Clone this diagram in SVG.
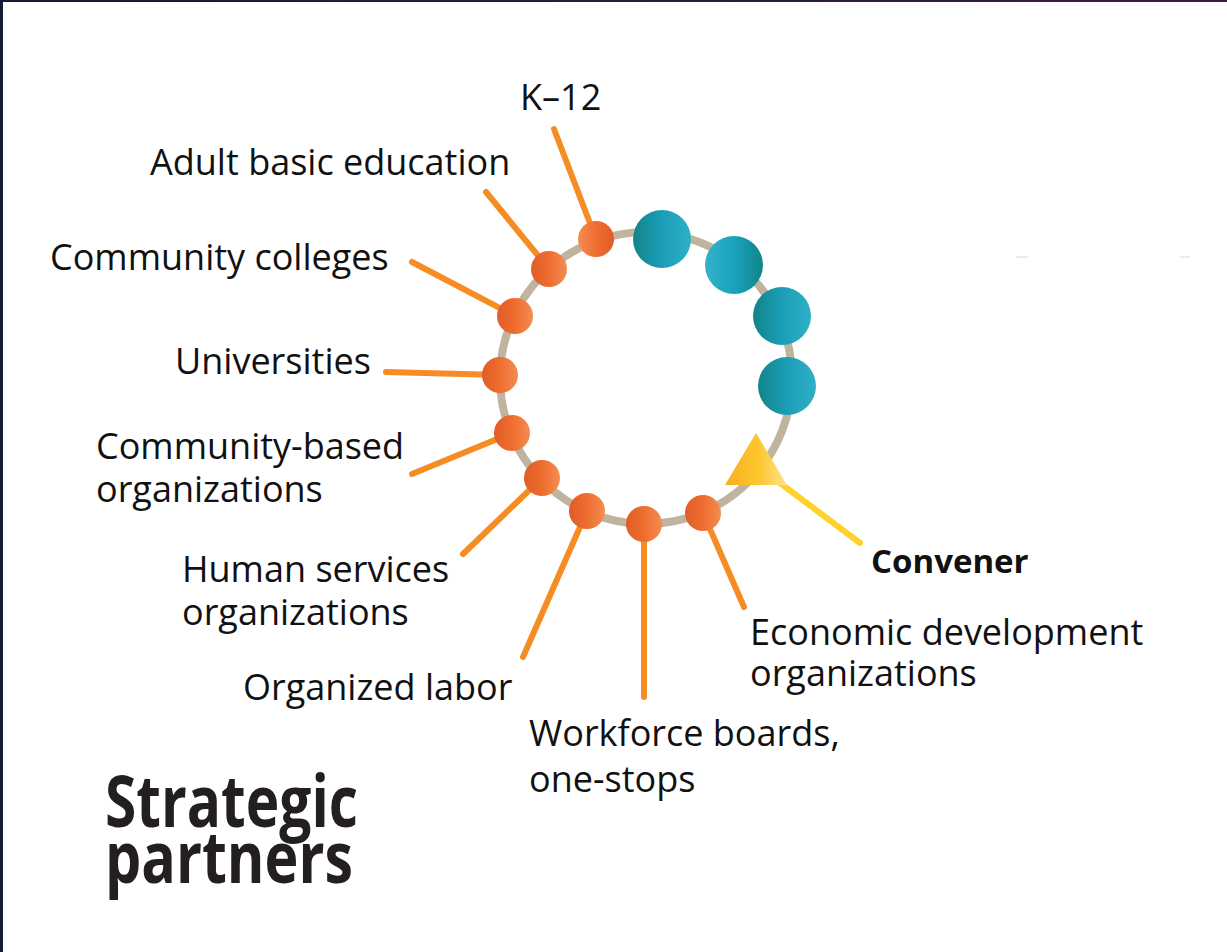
<svg xmlns="http://www.w3.org/2000/svg" width="1227" height="952" viewBox="0 0 1227 952">
<defs>
<linearGradient id="topbar" x1="0" y1="0" x2="1" y2="0"><stop offset="0" stop-color="#141c3a"/><stop offset="1" stop-color="#3b1a4a"/></linearGradient>
<linearGradient id="orR" x1="0" y1="0" x2="1" y2="0"><stop offset="0" stop-color="#e05c28"/><stop offset="0.5" stop-color="#ee6d2e"/><stop offset="1" stop-color="#f48d52"/></linearGradient>
<linearGradient id="orL" x1="0" y1="0" x2="1" y2="0"><stop offset="0" stop-color="#f48d52"/><stop offset="0.5" stop-color="#ee6d2e"/><stop offset="1" stop-color="#e05c28"/></linearGradient>
<linearGradient id="teR" x1="0" y1="0" x2="1" y2="0"><stop offset="0" stop-color="#128489"/><stop offset="0.5" stop-color="#1b9db7"/><stop offset="1" stop-color="#2eb1c7"/></linearGradient>
<linearGradient id="teL" x1="0" y1="0" x2="1" y2="0"><stop offset="0" stop-color="#34b3c9"/><stop offset="0.5" stop-color="#1aa2bc"/><stop offset="1" stop-color="#128489"/></linearGradient>
<linearGradient id="tri" x1="0" y1="0" x2="1" y2="0"><stop offset="0" stop-color="#f9ad22"/><stop offset="0.55" stop-color="#fdc72e"/><stop offset="1" stop-color="#fde394"/></linearGradient>
</defs>
<style>
.lbl{font-family:"Open Sans","Noto Sans",sans-serif;font-size:36px;fill:#111;}
.bold{font-family:"Open Sans","Noto Sans",sans-serif;font-weight:700;fill:#111;}
.title{font-family:"Open Sans","Noto Sans",sans-serif;font-weight:700;font-size:72px;fill:#231f20;}
.ln{stroke:#f68d24;stroke-width:6;stroke-linecap:round;fill:none;}
.yl{stroke:#fdd22a;stroke-width:6;stroke-linecap:round;fill:none;}
.ring{fill:none;stroke:#c1b49e;stroke-width:8;}
</style>
<rect x="0" y="0" width="1227" height="952" fill="#ffffff"/>
<rect x="0" y="0" width="1227" height="2" fill="url(#topbar)"/>
<rect x="0" y="0" width="3" height="952" fill="#151b36"/>
<line x1="1016" y1="257" x2="1028" y2="257" stroke="#d8d8d8" stroke-width="1"/>
<line x1="1180" y1="257" x2="1190" y2="257" stroke="#d8d8d8" stroke-width="1"/>

<circle class="ring" cx="646" cy="378" r="146"/>

<g id="connectors">
<line class="ln" x1="554" y1="129" x2="596" y2="239"/>
<line class="ln" x1="486" y1="192" x2="549" y2="269"/>
<line class="ln" x1="412" y1="262" x2="515" y2="316"/>
<line class="ln" x1="386" y1="372" x2="500" y2="375"/>
<line class="ln" x1="412" y1="474" x2="512" y2="433"/>
<line class="ln" x1="463" y1="554" x2="542" y2="478"/>
<line class="ln" x1="523" y1="657" x2="587" y2="511"/>
<line class="ln" x1="644" y1="697" x2="644" y2="524"/>
<line class="ln" x1="744" y1="607" x2="703" y2="513"/>
<line class="yl" x1="780" y1="483" x2="860" y2="543"/>
</g>

<g id="partners-teal">
<circle cx="662" cy="239" r="29" fill="url(#teR)"/>
<circle cx="734" cy="265" r="29" fill="url(#teL)"/>
<circle cx="782" cy="316" r="29" fill="url(#teR)"/>
<circle cx="787" cy="386" r="29" fill="url(#teR)"/>
</g>

<g id="node-k12"><circle cx="596" cy="239" r="18" fill="url(#orL)"/><text class="lbl" x="520" y="110">K–12</text></g>
<g id="node-adult"><circle cx="549" cy="269" r="18" fill="url(#orR)"/><text class="lbl" x="150" y="175">Adult basic education</text></g>
<g id="node-cc"><circle cx="515" cy="316" r="18" fill="url(#orR)"/><text class="lbl" x="50" y="270">Community colleges</text></g>
<g id="node-univ"><circle cx="500" cy="375" r="18" fill="url(#orR)"/><text class="lbl" x="175" y="374">Universities</text></g>
<g id="node-cbo"><circle cx="512" cy="433" r="18" fill="url(#orR)"/><text class="lbl" x="96" y="459">Community-based</text><text class="lbl" x="96" y="502">organizations</text></g>
<g id="node-hs"><circle cx="542" cy="478" r="18" fill="url(#orR)"/><text class="lbl" x="182" y="582">Human services</text><text class="lbl" x="182" y="625">organizations</text></g>
<g id="node-labor"><circle cx="587" cy="511" r="18" fill="url(#orR)"/><text class="lbl" x="243" y="700">Organized labor</text></g>
<g id="node-wf"><circle cx="644" cy="524" r="18" fill="url(#orR)"/><text class="lbl" x="529" y="746">Workforce boards,</text><text class="lbl" x="529" y="792">one-stops</text></g>
<g id="node-econ"><circle cx="703" cy="513" r="18" fill="url(#orR)"/><text class="lbl" x="750" y="645">Economic development</text><text class="lbl" x="750" y="686">organizations</text></g>
<g id="node-convener"><polygon points="725,485 756,433 787,485" fill="url(#tri)"/><text class="bold" x="871" y="573" font-size="33">Convener</text></g>

<g id="title">
<text class="title" x="105" y="827" textLength="253" lengthAdjust="spacingAndGlyphs">Strategic</text>
<text class="title" x="105" y="883" textLength="248" lengthAdjust="spacingAndGlyphs">partners</text>
</g>
</svg>
